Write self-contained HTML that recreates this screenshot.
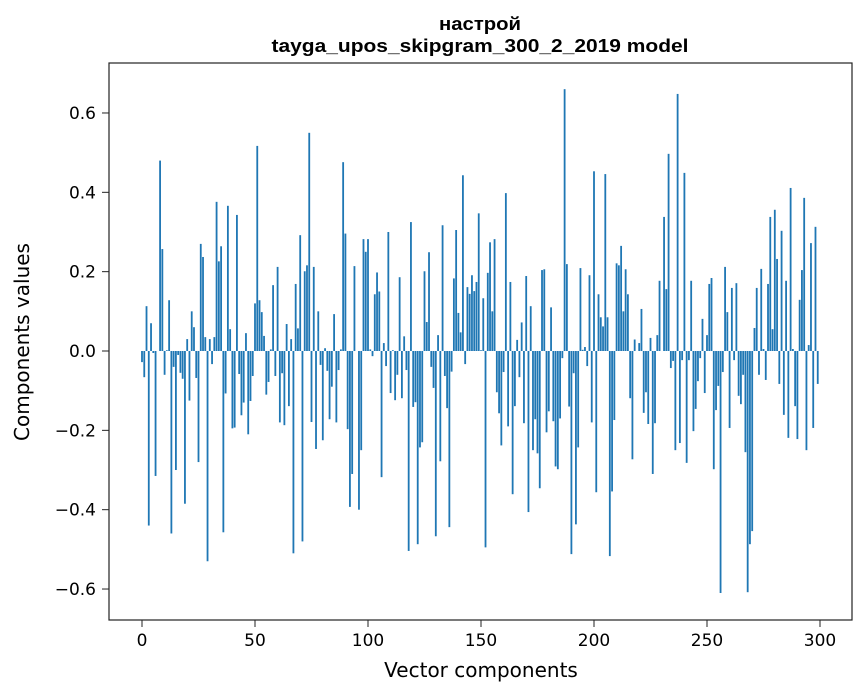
<!DOCTYPE html>
<html><head><meta charset="utf-8"><style>
body{margin:0;background:#fff;}
svg{display:block;font-family:"DejaVu Sans","Liberation Sans",sans-serif;}
</style></head><body>
<svg id="chart" width="867" height="696" xmlns="http://www.w3.org/2000/svg">
<rect width="867" height="696" fill="#fff"/>
<text x="480" y="30" text-anchor="middle" font-size="18" font-weight="bold" font-family="Liberation Sans, sans-serif" textLength="82" lengthAdjust="spacingAndGlyphs">настрой</text>
<text x="480" y="52" text-anchor="middle" font-size="18" font-weight="bold" font-family="Liberation Sans, sans-serif" textLength="417" lengthAdjust="spacingAndGlyphs">tayga_upos_skipgram_300_2_2019 model</text>
<g id="bars"></g>
<g id="xticks"></g>
<g id="yticks"></g>
<rect x="109" y="63" width="743" height="557" fill="none" stroke="#222" stroke-width="1.2"/>
<text x="481" y="677" text-anchor="middle" font-size="20">Vector components</text>
<text transform="translate(29,342) rotate(-90)" text-anchor="middle" font-size="20">Components values</text>
</svg>
<script>
const values = [
-0.028,-0.066,0.113,-0.44,0.07,-0.005,-0.315,0.0,0.48,0.257,
-0.06,0.002,0.128,-0.46,-0.04,-0.30,-0.01,-0.055,-0.07,-0.385,
0.03,-0.125,0.10,0.06,-0.068,-0.28,0.27,0.237,0.035,-0.53,
0.03,-0.033,0.035,0.376,0.226,0.264,-0.457,-0.107,0.366,0.055,
-0.195,-0.193,0.343,-0.058,-0.162,-0.13,0.045,-0.21,-0.126,-0.063,
0.12,0.517,0.128,0.098,0.038,-0.11,-0.078,0.004,0.166,-0.063,
0.212,-0.18,-0.056,-0.187,0.068,-0.139,0.03,-0.51,0.169,0.057,
0.292,-0.48,0.201,0.216,0.55,-0.179,0.212,-0.247,0.10,-0.035,
-0.225,0.007,-0.05,-0.172,-0.09,0.093,-0.18,-0.048,0.004,0.476,
0.296,-0.197,-0.393,-0.31,0.214,0.0,-0.40,-0.25,0.282,0.25,
0.282,0.004,-0.013,0.143,0.198,0.15,-0.318,0.02,-0.038,0.30,
-0.106,0.002,-0.124,-0.06,0.186,-0.119,0.037,-0.048,-0.504,0.325,
-0.141,-0.129,-0.487,-0.243,-0.23,0.201,0.073,0.249,-0.04,-0.093,
-0.467,0.04,-0.278,0.317,-0.063,-0.144,-0.444,-0.052,0.183,0.305,
0.096,0.047,0.443,-0.033,0.161,0.144,0.191,0.151,0.174,0.347,
0.002,0.133,-0.495,0.197,0.274,0.10,0.282,-0.104,-0.157,-0.238,
-0.053,0.398,-0.19,0.174,-0.361,-0.139,0.028,-0.066,0.072,-0.182,
0.189,-0.406,0.113,-0.25,-0.172,-0.258,-0.346,0.204,0.206,-0.205,
-0.152,0.11,-0.177,-0.291,-0.298,-0.17,-0.018,0.66,0.219,-0.14,
-0.512,-0.056,-0.437,-0.243,0.209,0.003,0.01,-0.038,0.191,-0.18,
0.453,-0.356,0.143,0.085,0.062,0.446,0.085,-0.517,-0.354,-0.174,
0.221,0.216,0.265,0.10,0.206,0.143,-0.119,-0.273,0.029,0.0,
0.02,0.106,-0.156,-0.104,-0.184,0.033,-0.31,-0.182,0.04,0.177,
0.0,0.338,0.156,0.497,-0.043,-0.025,-0.25,0.648,-0.232,-0.023,
0.449,-0.282,-0.023,0.177,-0.202,-0.146,-0.076,-0.018,0.081,-0.106,
0.04,0.169,0.184,-0.298,-0.149,-0.088,-0.61,-0.053,0.212,0.098,
-0.194,0.159,-0.023,0.171,-0.113,-0.134,-0.06,-0.255,-0.608,-0.487,
-0.454,0.058,0.159,-0.06,0.207,0.005,-0.073,0.169,0.338,0.055,
0.356,0.232,-0.083,0.303,-0.161,0.177,-0.219,0.411,0.005,-0.139,
-0.222,0.129,0.204,0.386,-0.25,0.015,0.272,-0.194,0.313,-0.083
];
const xTickValues = [0,50,100,150,200,250,300];
const yTickValues = [0.6,0.4,0.2,0.0,-0.2,-0.4,-0.6];
const yTickLabels = ["0.6","0.4","0.2","0.0","\u22120.2","\u22120.4","\u22120.6"];

const NS = "http://www.w3.org/2000/svg";
const xScale = v => 142 + 2.26 * v;
const yScale = v => 351 - 396.7 * v;
const barW = 0.8 * 2.26;

const bars = document.getElementById('bars');
values.forEach((v, i) => {
  const r = document.createElementNS(NS, 'rect');
  
  
  const y0 = yScale(0), y1 = yScale(v);
  r.setAttribute('x', xScale(i) - barW / 2);
  r.setAttribute('y', Math.min(y0, y1));
  r.setAttribute('width', barW);
  r.setAttribute('height', Math.max(Math.abs(y1 - y0), 0.01));
  r.setAttribute('fill', '#1f77b4');
  bars.appendChild(r);
});

const xt = document.getElementById('xticks');
xTickValues.forEach(t => {
  const x = xScale(t);
  const l = document.createElementNS(NS, 'line');
  
  
  l.setAttribute('x1', x); l.setAttribute('x2', x);
  l.setAttribute('y1', 620); l.setAttribute('y2', 627);
  l.setAttribute('stroke', '#222');
  xt.appendChild(l);
  const tx = document.createElementNS(NS, 'text');
  
  
  tx.setAttribute('x', x); tx.setAttribute('y', 646);
  tx.setAttribute('text-anchor', 'middle');
  tx.setAttribute('font-size', '17');
  tx.textContent = String(t);
  xt.appendChild(tx);
});

const yt = document.getElementById('yticks');
yTickValues.forEach((t, i) => {
  const y = yScale(t);
  const l = document.createElementNS(NS, 'line');
  
  
  l.setAttribute('x1', 102); l.setAttribute('x2', 109);
  l.setAttribute('y1', y); l.setAttribute('y2', y);
  l.setAttribute('stroke', '#222');
  yt.appendChild(l);
  const tx = document.createElementNS(NS, 'text');
  
  
  tx.setAttribute('x', 96); tx.setAttribute('y', y + 6);
  tx.setAttribute('text-anchor', 'end');
  tx.setAttribute('font-size', '17');
  tx.textContent = yTickLabels[i];
  yt.appendChild(tx);
});
</script>
</body></html>
